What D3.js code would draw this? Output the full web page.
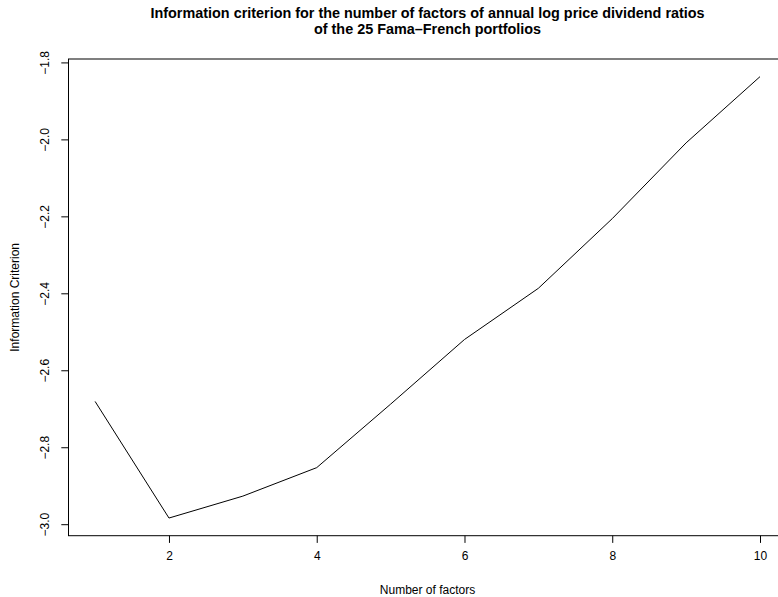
<!DOCTYPE html>
<html>
<head>
<meta charset="utf-8">
<script src="https://cdn.jsdelivr.net/npm/d3@7"></script>
<style>
  html, body { margin: 0; padding: 0; background: #fff; }
  svg { display: block; }
  text { font-family: "Liberation Sans", Arial, Helvetica, sans-serif; fill: #000; }
</style>
</head>
<body>
<svg id="chart" width="778" height="597"></svg>
<script>
const factors = [1, 2, 3, 4, 5, 6, 7, 8, 9, 10];
const criterion = [-2.681, -2.984, -2.927, -2.853, -2.688, -2.520, -2.387, -2.206, -2.009, -1.837];
const xTicks = [2, 4, 6, 8, 10];
const yTicks = [-3.0, -2.8, -2.6, -2.4, -2.2, -2.0, -1.8];
const titleLines = [
  "Information criterion for the number of factors of annual log price dividend ratios",
  "of the 25 Fama\u2013French portfolios"
];
const xLabel = "Number of factors";
const yLabel = "Information Criterion";

(function () {
const svg = d3.select("#chart");
const pL = 68.5, pR = 786.6, pT = 59, pB = 535.7;

function padExtent(ext) {
  const d = (ext[1] - ext[0]) * 0.04;
  return [ext[0] - d, ext[1] + d];
}
const x = d3.scaleLinear().domain(padExtent(d3.extent(factors))).range([pL, pR]);
const y = d3.scaleLinear().domain(padExtent(d3.extent(criterion))).range([pB, pT]);

// box
svg.append("rect")
  .attr("x", pL).attr("y", pT)
  .attr("width", pR - pL).attr("height", pB - pT)
  .attr("fill", "none").attr("stroke", "#000").attr("stroke-width", 1);

// x axis
const xAxis = svg.append("g").attr("transform", `translate(0,${pB})`)
  .call(d3.axisBottom(x).tickValues(xTicks).tickSize(7.2).tickPadding(9).tickFormat(d3.format("d")));
xAxis.select(".domain").remove();
xAxis.selectAll("text").attr("font-size", 12).style("font-family", "Liberation Sans, Arial, sans-serif");
xAxis.selectAll("line").attr("stroke", "#000");

// y axis
const yAxis = svg.append("g").attr("transform", `translate(${pL},0)`)
  .call(d3.axisLeft(y).tickValues(yTicks).tickSize(7.2).tickFormat(d => d3.format(".1f")(d).replace("-", "\u2212")));
yAxis.select(".domain").attr("d", `M0,${y(-3.0)}V${y(-1.8)}`).attr("stroke", "#000");
yAxis.selectAll("line").attr("stroke", "#000");
yAxis.selectAll(".tick text")
  .attr("font-size", 12)
  .style("font-family", "Liberation Sans, Arial, sans-serif")
  .attr("x", null).attr("dy", null)
  .attr("text-anchor", "middle")
  .attr("transform", "translate(-20,0) rotate(-90)");

// line
const line = d3.line().x((d, i) => x(factors[i])).y(d => y(d));
svg.append("path").datum(criterion)
  .attr("d", line).attr("fill", "none").attr("stroke", "#000").attr("stroke-width", 1);

// title
const cx = (pL + pR) / 2;
svg.append("g").selectAll("text").data(titleLines).join("text")
  .attr("x", cx).attr("y", (d, i) => 18 + i * 15.5)
  .attr("text-anchor", "middle").attr("font-weight", "bold").attr("font-size", 14.4)
  .text(d => d);

svg.append("text").attr("x", cx).attr("y", 594)
  .attr("text-anchor", "middle").attr("font-size", 12).text(xLabel);

svg.append("text").attr("transform", `translate(19,${(pT + pB) / 2}) rotate(-90)`)
  .attr("text-anchor", "middle").attr("font-size", 12).text(yLabel);
})();
</script>
</body>
</html>
